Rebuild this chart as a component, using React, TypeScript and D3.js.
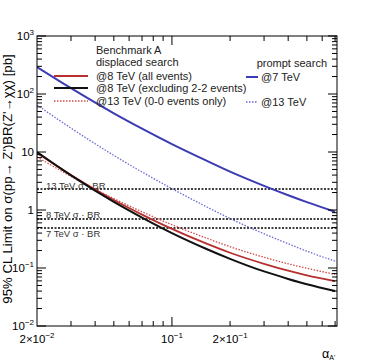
import React from 'react';
import * as d3 from 'd3';

// coupling values (x) and the 95% CL limits [pb]
const alphaValues = [0.02, 0.03, 0.05, 0.07, 0.1, 0.15, 0.2, 0.3, 0.4, 0.5, 0.7];
const prompt7 = [292, 126, 46.5, 25.3, 13.7, 7.16, 4.59, 2.61, 1.8, 1.37, 0.935];
const prompt13 = [64.6, 25.8, 8.73, 4.52, 2.33, 1.15, 0.713, 0.389, 0.262, 0.195, 0.131];
const displaced8All = [9.61, 4.03, 1.49, 0.834, 0.472, 0.265, 0.183, 0.118, 0.0897, 0.0745, 0.0592];
const displaced8Excl = [10, 3.96, 1.38, 0.74, 0.4, 0.215, 0.144, 0.0873, 0.0648, 0.0524, 0.04];
const displaced13 = [8.2, 3.81, 1.57, 0.931, 0.558, 0.33, 0.233, 0.153, 0.118, 0.0989, 0.0778];

const xsecLabels = ['13 TeV', '8 TeV', '7 TeV'];
const xsecValues = [2.3, 0.7, 0.49];

const yDecades = [1e-2, 1e-1, 1, 10, 1e2, 1e3];
const yDecadeLabels = [['10', '−2'], ['10', '−1'], ['1', ''], ['10', ''], ['10', '2'], ['10', '3']];
const xLabelValues = [0.02, 0.1, 0.2];
const xLabels = [['2×10', '−2'], ['10', '−1'], ['2×10', '−1']];

const W = 374, H = 363;
const m = { left: 37, right: 37, top: 36, bottom: 37 };
const font = '"Liberation Sans", Arial, sans-serif';

const App = () => {
  const x = d3.scaleLog().domain([0.02, 0.716]).range([m.left, W - m.right]);
  const y = d3.scaleLog().domain([1e-2, 1e3]).range([H - m.bottom, m.top]);
  const x0 = m.left, x1 = W - m.right, y0 = H - m.bottom, y1 = m.top;

  const mk = (vals: number[]) =>
    d3.line<number>()
      .x((d, i) => x(alphaValues[i]))
      .y(d => y(d))
      .curve(d3.curveMonotoneX)(vals) as string;

  const series = [
    { vals: prompt7, color: '#3b3bb3', width: 2, dash: undefined },
    { vals: prompt13, color: '#6a6ad8', width: 1.3, dash: '1.5,1.5' },
    { vals: displaced13, color: '#d24a4a', width: 1.3, dash: '1.5,1.5' },
    { vals: displaced8All, color: '#b63030', width: 1.8, dash: undefined },
    { vals: displaced8Excl, color: '#111', width: 2, dash: undefined },
  ];

  // minor ticks
  const yMinor: number[] = [];
  for (let e = -2; e < 3; e++) for (let k = 2; k <= 9; k++) yMinor.push(k * Math.pow(10, e));
  const xMinor: number[] = [];
  for (let e = -2; e < 0; e++) for (let k = 1; k <= 9; k++) {
    const v = k * Math.pow(10, e);
    if (v > 0.02 && v < 0.716 && v !== 0.1) xMinor.push(v);
  }

  return (
    <svg width={W} height={H} style={{ position: 'absolute', left: 0, top: 0 }} fontFamily={font}>
      <rect x={0} y={0} width={W} height={H} fill="#fff" />
      <defs>
        <clipPath id="plot">
          <rect x={x0} y={y1} width={x1 - x0} height={y0 - y1} />
        </clipPath>
      </defs>

      {/* cross-section reference lines */}
      {xsecValues.map((v, i) => (
        <g key={'xs' + i}>
          <line x1={x0} x2={x1} y1={y(v)} y2={y(v)} stroke="#000" strokeWidth={1.4} strokeDasharray="2,1.5" />
          <text x={x0 + 9} y={i === 2 ? y(v) + 9 : y(v) - 0.5} fontSize={9.5} fill="#333">
            {xsecLabels[i]} σ · BR
          </text>
        </g>
      ))}

      <g clipPath="url(#plot)">
        {series.map((s, i) => (
          <path key={i} d={mk(s.vals)} fill="none" stroke={s.color} strokeWidth={s.width} strokeDasharray={s.dash} />
        ))}
      </g>

      {/* frame and ticks */}
      <rect x={x0} y={y1} width={x1 - x0} height={y0 - y1} fill="none" stroke="#000" strokeWidth={1} />
      {yDecades.map((v, i) => (
        <g key={'yd' + i}>
          <line x1={x0} x2={x0 + 9} y1={y(v)} y2={y(v)} stroke="#000" />
          <line x1={x1} x2={x1 - 9} y1={y(v)} y2={y(v)} stroke="#000" />
          <text x={34} y={y(v) + 4} textAnchor="end" fontSize={11.5}>
            {yDecadeLabels[i][0]}
            {yDecadeLabels[i][1] && <tspan dy={-5} fontSize={8}>{yDecadeLabels[i][1]}</tspan>}
          </text>
        </g>
      ))}
      {yMinor.map((v, i) => (
        <g key={'ym' + i}>
          <line x1={x0} x2={x0 + 5} y1={y(v)} y2={y(v)} stroke="#000" />
          <line x1={x1} x2={x1 - 5} y1={y(v)} y2={y(v)} stroke="#000" />
        </g>
      ))}
      {xMinor.map((v, i) => (
        <g key={'xm' + i}>
          <line x1={x(v)} x2={x(v)} y1={y0} y2={y0 - 5} stroke="#000" />
          <line x1={x(v)} x2={x(v)} y1={y1} y2={y1 + 5} stroke="#000" />
        </g>
      ))}
      <line x1={x(0.1)} x2={x(0.1)} y1={y0} y2={y0 - 9} stroke="#000" />
      <line x1={x(0.1)} x2={x(0.1)} y1={y1} y2={y1 + 9} stroke="#000" />
      {xLabelValues.map((v, i) => (
        <text key={'xl' + i} x={x(v)} y={y0 + 17} textAnchor="middle" fontSize={11.5}>
          {xLabels[i][0]}
          <tspan dy={-5} fontSize={8}>{xLabels[i][1]}</tspan>
        </text>
      ))}
      <text x={x1 - 15} y={y0 + 32} fontSize={12.5}>
        α<tspan dy={2} fontSize={7}>A'</tspan>
      </text>
      <text transform={`translate(12, 179) rotate(-90)`} textAnchor="middle" fontSize={13.2}>
        95% CL Limit on σ(pp→ Z')BR(Z'→χχ) [pb]
      </text>

      {/* legend */}
      <g fontSize={11} fill="#222">
        <text x={96} y={54}>Benchmark A</text>
        <text x={96} y={66}>displaced search</text>
        <line x1={54} x2={88} y1={76} y2={76} stroke="#b63030" strokeWidth={1.8} />
        <text x={96} y={80}>@8 TeV (all events)</text>
        <line x1={54} x2={88} y1={88} y2={88} stroke="#111" strokeWidth={2} />
        <text x={96} y={92}>@8 TeV (excluding 2-2 events)</text>
        <line x1={54} x2={88} y1={101} y2={101} stroke="#d24a4a" strokeWidth={1.3} strokeDasharray="1.5,1.5" />
        <text x={96} y={105}>@13 TeV (0-0 events only)</text>
        <text x={327} y={67} textAnchor="end">prompt search</text>
        <line x1={246} x2={258} y1={77} y2={77} stroke="#3b3bb3" strokeWidth={2} />
        <text x={261} y={81}>@7 TeV</text>
        <line x1={246} x2={258} y1={102} y2={102} stroke="#6a6ad8" strokeWidth={1.3} strokeDasharray="1.5,1.5" />
        <text x={261} y={106}>@13 TeV</text>
      </g>
    </svg>
  );
};

export default App;
